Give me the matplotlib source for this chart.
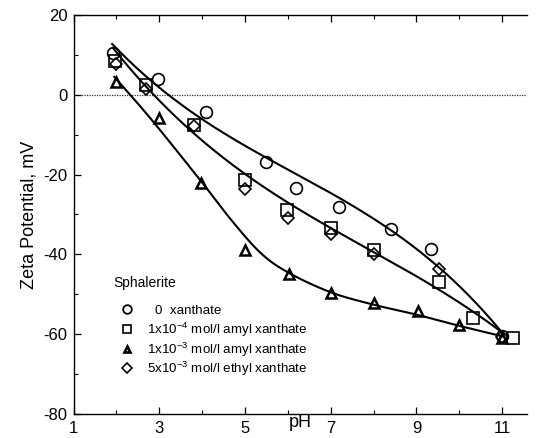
import numpy as np
import matplotlib
matplotlib.use("Agg")
import matplotlib.pyplot as plt

plt.rcParams['font.family'] = ['Liberation Sans', 'DejaVu Sans']
plt.rcParams['mathtext.fontset'] = 'custom'
plt.rcParams['mathtext.rm'] = 'Liberation Sans'
plt.rcParams['axes.unicode_minus'] = False

# ---- data ----
circ_x = [1.92, 2.96, 4.10, 5.49, 6.19, 7.20, 8.40, 9.34, 11.0]
circ_y = [10.5, 4.0, -4.3, -16.8, -23.3, -28.0, -33.6, -38.6, -60.4]
sq_x = [1.97, 2.69, 3.80, 5.01, 5.99, 7.00, 8.00, 9.52, 10.32, 11.25]
sq_y = [8.5, 2.5, -7.5, -21.3, -29.0, -33.4, -38.9, -47.0, -56.0, -61.0]
tri_x = [1.99, 3.00, 3.98, 5.00, 6.03, 7.00, 8.00, 9.04, 10.0, 11.0]
tri_y = [3.3, -5.8, -22.2, -38.9, -45.0, -49.6, -52.1, -54.1, -57.6, -61.0]
dia_x = [1.98, 2.68, 3.80, 5.00, 6.00, 7.00, 8.00, 9.52, 11.0]
dia_y = [7.8, 1.5, -7.8, -23.6, -31.0, -34.8, -40.0, -43.6, -60.6]

# fitted trend curves: points
fit0_x = [1.90, 3.15, 4.34, 5.50, 6.98, 8.38, 9.51, 11.03]
fit0_y = [12.8, 0.0, -7.3, -16.8, -24.5, -33.3, -43.4, -60.0]
fit1_x = [1.92, 2.90, 3.79, 4.90, 5.89, 7.00, 8.00, 9.55, 11.03]
fit1_y = [11.0, 0.0, -7.8, -19.5, -27.5, -33.8, -39.5, -47.5, -60.5]
fit2_x = [1.95, 2.80, 4.00, 4.65, 5.35, 6.00, 7.00, 8.00, 9.00, 10.0, 11.03]
fit2_y = [4.5, -6.0, -22.0, -31.0, -39.5, -44.5, -49.5, -52.6, -55.1, -57.9, -60.6]

legend_title = "Sphalerite"
labels = ["0  xanthate",
          r"1x10$^{-4}$ mol/l amyl xanthate",
          r"1x10$^{-3}$ mol/l amyl xanthate",
          r"5x10$^{-3}$ mol/l ethyl xanthate"]
xticks = [1, 3, 5, 7, 9, 11]
yticks = [-80, -60, -40, -20, 0, 20]


def catmull(xs, ys, n=30):
    xs = np.asarray(xs, float); ys = np.asarray(ys, float)
    P = np.column_stack([xs, ys])
    P = np.vstack([2 * P[0] - P[1], P, 2 * P[-1] - P[-2]])
    out = []
    t = np.linspace(0, 1, n)[:, None]
    for i in range(1, len(P) - 2):
        p0, p1, p2, p3 = P[i - 1], P[i], P[i + 1], P[i + 2]
        seg = 0.5 * ((2 * p1) + (-p0 + p2) * t + (2 * p0 - 5 * p1 + 4 * p2 - p3) * t ** 2
                     + (-p0 + 3 * p1 - 3 * p2 + p3) * t ** 3)
        out.append(seg)
    out = np.vstack(out)
    return out[:, 0], out[:, 1]


fig = plt.figure(figsize=(5.36, 4.38), dpi=100)
ax = fig.add_axes([0.1373, 0.0548, 0.846, 0.911])

ax.axhline(0, color='#333333', lw=0.9, ls=(0, (1, 1)), zorder=1)

for fx, fy, deg in [(fit0_x, fit0_y, 3), (fit1_x, fit1_y, 3)]:
    c = np.polyfit(fx, fy, deg)
    xx = np.linspace(fx[0], fx[-1], 200)
    ax.plot(xx, np.polyval(c, xx), color='black', lw=1.5, zorder=2)
cx, cy = catmull(fit2_x, fit2_y)
ax.plot(cx, cy, color='black', lw=1.5, zorder=2)

mk = dict(color='black', mfc='none', ls='none', mew=1.2, zorder=3)
ax.plot(circ_x, circ_y, marker='o', ms=8.5, **mk)
ax.plot(sq_x, sq_y, marker='s', ms=8, **mk)
ax.plot(tri_x, tri_y, marker='^', ms=6.5, color='black', mfc='none', ls='none', mew=1.8, zorder=3)
ax.plot(dia_x, dia_y, marker='D', ms=6.5, **mk)

# legend drawn by hand (title + marker column + text column)
ax.text(0.087, 0.328, legend_title, transform=ax.transAxes, fontsize=10,
        ha='left', va='center')
leg_rows = [0.263, 0.213, 0.163, 0.115]
leg_mk = [('o', 6.2, 1.3), ('s', 5.8, 1.2), ('^', 5.0, 1.9), ('D', 4.8, 1.2)]
for (m, ms, mew), yy, lab in zip(leg_mk, leg_rows, labels):
    ax.plot([0.1177], [yy], marker=m, ms=ms, mew=mew, color='black', mfc='none',
            ls='none', transform=ax.transAxes, clip_on=False)
    xpos = 0.180 if lab.startswith("0") else 0.162
    ax.text(xpos, yy - 0.012, lab, transform=ax.transAxes, fontsize=9.6,
            ha='left', va='baseline')

ax.set_xlim(1, 11.58)
ax.set_ylim(-80, 20)
ax.set_xticks(xticks)
ax.set_xticks([2, 4, 6, 8, 10], minor=True)
ax.set_yticks(yticks)
ax.set_yticks([-70, -50, -30, -10, 10], minor=True)
ax.tick_params(which='both', direction='in', top=True, right=False, labelsize=12)
ax.tick_params(which='major', length=5, width=0.9)
ax.tick_params(which='minor', length=3, width=0.8)
ax.tick_params(axis='x', which='major', pad=5)
ax.tick_params(axis='y', which='major', pad=4.5)
ax.spines['right'].set_visible(False)
for s in ['left', 'bottom', 'top']:
    ax.spines[s].set_linewidth(1.0)

ax.set_ylabel("Zeta Potential, mV", fontsize=13, labelpad=4)
ax.text(6.28, -80, "pH", ha='center', va='top', fontsize=13,
        transform=ax.transData, clip_on=False)

fig.savefig("out.png", dpi=100)
